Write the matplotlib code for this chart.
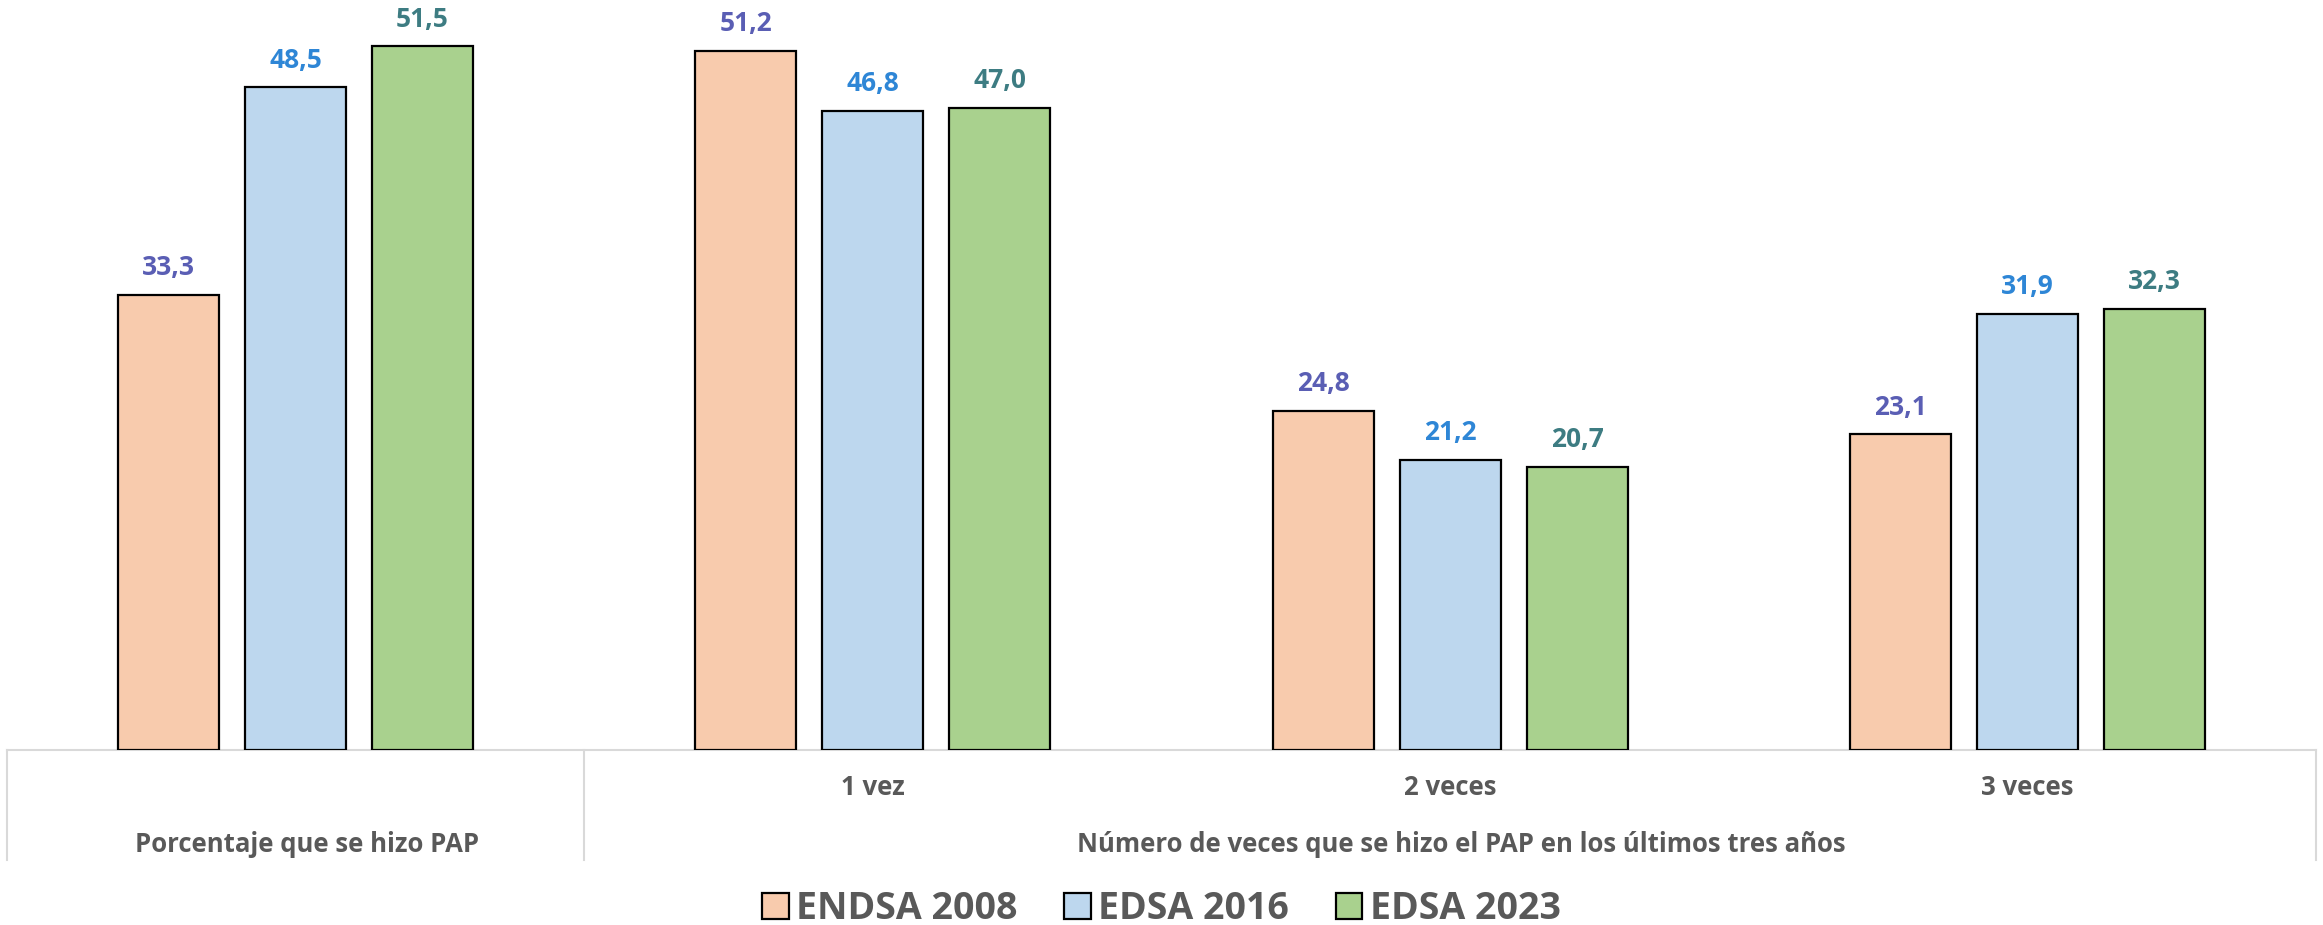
import numpy as np
import matplotlib
matplotlib.use("Agg")
import matplotlib.pyplot as plt
import matplotlib.transforms as mtransforms
from matplotlib.patches import Patch

plt.rcParams['font.family'] = ['Open Sans', 'DejaVu Sans']

# data
series = ['ENDSA 2008', 'EDSA 2016', 'EDSA 2023']
groups = ['', '1 vez', '2 veces', '3 veces']
endsa_2008 = [33.3, 51.2, 24.8, 23.1]
edsa_2016 = [48.5, 46.8, 21.2, 31.9]
edsa_2023 = [51.5, 47.0, 20.7, 32.3]
values = [endsa_2008, edsa_2016, edsa_2023]

outer_labels = ['Porcentaje que se hizo PAP',
                'Número de veces que se hizo el PAP en los últimos tres años']
outer_spans = [(-0.5, 0.5), (0.5, 3.5)]

fill_colors = ['#F8CBAD', '#BDD7EE', '#A9D18E']
label_colors = ['#5A5EB4', '#2E86D6', '#3D7C82']
text_grey = '#595959'

fig = plt.figure(figsize=(23.23, 9.25), dpi=100)
ax = fig.add_axes([7 / 2323, 1 - 750 / 925, 2309 / 2323, 750 / 925])

x = np.arange(len(groups))
width = 0.175
step = 0.22

for i, (vals, fc, lc) in enumerate(zip(values, fill_colors, label_colors)):
    pos = x + (i - 1) * step
    bars = ax.bar(pos, vals, width, color=fc, edgecolor='black', linewidth=1.6,
                  label=series[i], zorder=3)
    for b, v in zip(bars, vals):
        ax.annotate(f'{v:.1f}'.replace('.', ','),
                    (b.get_x() + b.get_width() / 2, v),
                    xytext=(0, 10), textcoords='offset points',
                    ha='center', va='bottom', fontsize=19, fontweight='bold',
                    color=lc)

ax.set_xlim(-0.5, 3.5)
ax.set_ylim(0, 54.9)
ax.set_yticks([])
ax.set_xticks([])
for s in ['top', 'left', 'right']:
    ax.spines[s].set_visible(False)
ax.spines['bottom'].set_color('#D9D9D9')
ax.spines['bottom'].set_linewidth(1.5)

trans = mtransforms.blended_transform_factory(ax.transData, ax.transAxes)

# separators of the two-level category axis
for xs in [-0.5, 0.5, 3.5]:
    ax.plot([xs, xs], [0, -0.147], transform=trans, color='#D9D9D9',
            linewidth=1.5, clip_on=False)

# inner labels
for xi, g in zip(x, groups):
    if g:
        ax.text(xi, -0.05, g, transform=trans, ha='center', va='center',
                fontsize=18.5, fontweight='bold', color=text_grey)

# outer labels
for (a, b), lab in zip(outer_spans, outer_labels):
    ax.text((a + b) / 2 + 0.02, -0.126, lab, transform=trans, ha='center',
            va='center', fontsize=18.5, fontweight='bold', color=text_grey)

handles = [Patch(facecolor=c, edgecolor='black', linewidth=1.6) for c in fill_colors]
fig.legend(handles, series, loc='center', bbox_to_anchor=(0.5, 0.017),
           ncol=3, frameon=False, handlelength=0.7,
           handleheight=0.7, handletextpad=0.2, columnspacing=1.25,
           prop={'weight': 'bold', 'size': 27})
for t in fig.legends[0].get_texts():
    t.set_color(text_grey)

fig.savefig('out.png', dpi=100)
